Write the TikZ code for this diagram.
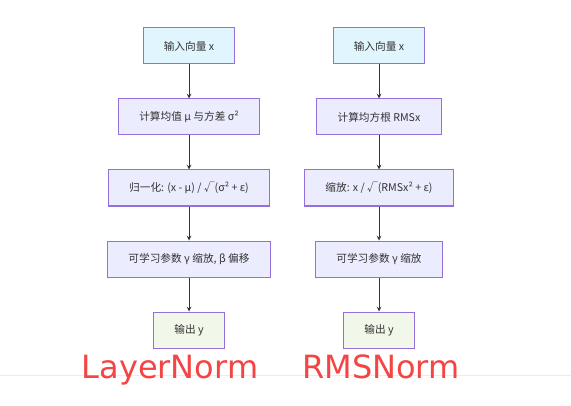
\documentclass[tikz,border=0pt]{standalone}
\usepackage{fontspec}
\usepackage{xcolor}
\setmainfont{Noto Sans CJK SC}
\newfontfamily\titlefont{DejaVu Sans}
\usetikzlibrary{arrows, positioning}

\definecolor{boxline}{HTML}{9370DB}
\definecolor{boxfill}{HTML}{ECECFF}
\definecolor{infill}{HTML}{E1F5FE}
\definecolor{outfill}{HTML}{F1F8E9}
\definecolor{inktext}{HTML}{333333}
\definecolor{titlered}{HTML}{F44444}

\begin{document}
\begin{tikzpicture}[
    x=0.75pt, y=-0.75pt,
    node distance=25.5pt,
    box/.style={rectangle, draw=boxline, line width=0.75pt, fill=boxfill, minimum height=27pt, inner xsep=15.5pt, align=center, text=inktext, font=\fontsize{8}{9.5}\selectfont},
    inbox/.style={box, fill=infill},
    outbox/.style={box, fill=outfill},
    arrow/.style={->, >=stealth, line width=0.6pt, draw=inktext},
    title/.style={text=titlered, font=\titlefont\fontsize{24}{28}\selectfont, anchor=base}
]
\useasboundingbox (0,0) rectangle (571,406);
\draw[line width=0.6pt, draw=black!8] (0,375) -- (571,375);

% LayerNorm
\node[inbox] (ln_in) at (189,46) {输入向量 x};
\node[box, below=of ln_in] (ln_stat) {计算均值 μ 与方差 σ²};
\node[box, below=of ln_stat] (ln_norm) {归一化: (x - μ) / √(σ² + ε)};
\node[box, below=of ln_norm] (ln_affine) {可学习参数 γ 缩放, β 偏移};
\node[outbox, below=of ln_affine] (ln_out) {输出 y};

% RMSNorm
\node[inbox] (rms_in) at (379,46) {输入向量 x};
\node[box, below=of rms_in] (rms_stat) {计算均方根 RMSx};
\node[box, below=of rms_stat] (rms_norm) {缩放: x / √(RMSx² + ε)};
\node[box, below=of rms_norm] (rms_scale) {可学习参数 γ 缩放};
\node[outbox, below=of rms_scale] (rms_out) {输出 y};

\draw[arrow] (ln_in) -- (ln_stat);
\draw[arrow] (ln_stat) -- (ln_norm);
\draw[arrow] (ln_norm) -- (ln_affine);
\draw[arrow] (ln_affine) -- (ln_out);
\draw[arrow] (rms_in) -- (rms_stat);
\draw[arrow] (rms_stat) -- (rms_norm);
\draw[arrow] (rms_norm) -- (rms_scale);
\draw[arrow] (rms_scale) -- (rms_out);

\node[title] (ln_title) at (170,378) {LayerNorm};
\node[title] (rms_title) at (381,378) {RMSNorm};
\end{tikzpicture}
\end{document}
